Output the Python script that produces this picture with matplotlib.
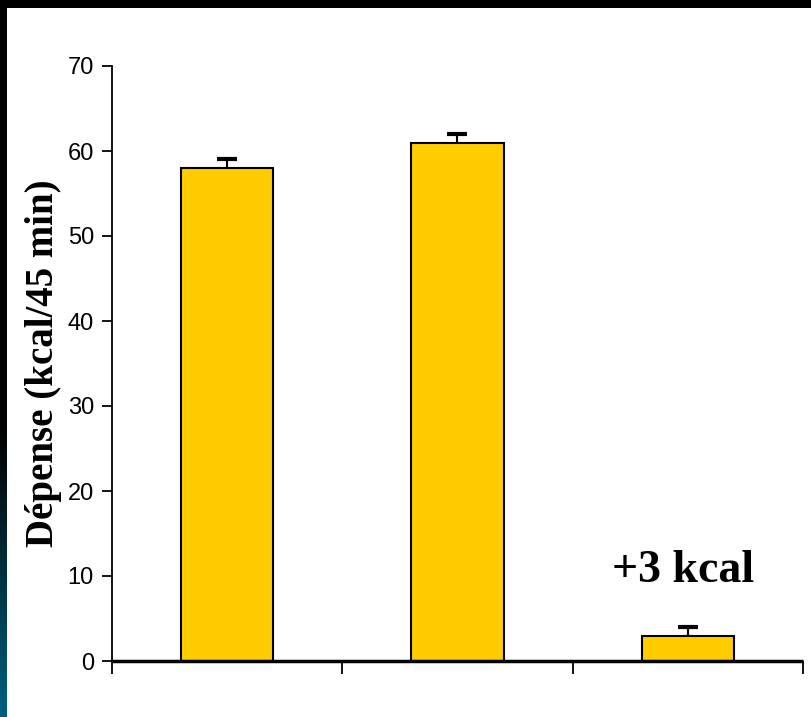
import numpy as np
import matplotlib
matplotlib.use("Agg")
import matplotlib.pyplot as plt
from matplotlib.colors import LinearSegmentedColormap

# data
groups = ["A", "B", "C"]
values = [58, 61, 3]
errors = [1.1, 1.0, 1.0]
yticks = [0, 10, 20, 30, 40, 50, 60, 70]

fig = plt.figure(figsize=(8.11, 7.17), dpi=100)
fig.patch.set_facecolor("white")

# dark frame: black strip at top, black->teal strip on the left
top = fig.add_axes([0, 1 - 8 / 717, 1, 8 / 717])
top.set_axis_off()
top.add_patch(plt.Rectangle((0, 0), 1, 1, color="black", transform=top.transAxes))

side = fig.add_axes([0, 0, 7 / 811, 1])
side.set_axis_off()
cmap = LinearSegmentedColormap.from_list("strip", [(0, "black"), (0.6, "black"), (1, "#00607f")])
side.imshow(np.linspace(0, 1, 256).reshape(-1, 1), aspect="auto", cmap=cmap,
            extent=[0, 1, 0, 1], origin="upper")

ax = fig.add_axes([112 / 811, 1 - 661 / 717, 691 / 811, 595 / 717])
x = np.arange(len(groups))
ax.bar(x, values, width=0.4, color="#FFCC00", edgecolor="black", linewidth=1.5, zorder=2)
eb = ax.errorbar(x, values, yerr=[np.zeros(len(errors)), errors], fmt="none",
                 ecolor="black", elinewidth=1.5, capsize=7, capthick=3, zorder=3)
# only the upper whisker is shown
eb[1][0].set_visible(False)

ax.set_xlim(-0.5, len(groups) - 0.5)
ax.set_ylim(0, 70)
ax.set_yticks(yticks)
ax.set_yticklabels([str(t) for t in yticks], family="Liberation Sans", fontsize=17)
ax.set_xticks(np.arange(len(groups) + 1) - 0.5)
ax.set_xticklabels([])
ax.tick_params(axis="y", direction="out", length=7, width=1.3, pad=6)
ax.tick_params(axis="x", direction="out", length=9, width=1.3)
for s in ["top", "right"]:
    ax.spines[s].set_visible(False)
ax.spines["left"].set_linewidth(1.3)
ax.spines["bottom"].set_linewidth(2.5)
ax.spines["bottom"].set_capstyle("butt")

ax.set_ylabel("Dépense (kcal/45 min)", family="Liberation Serif", fontweight="bold",
              fontsize=28)
ax.yaxis.set_label_coords(-0.072, 0.5)

ax.text(x[2] - 0.02, 9.3, "+3 kcal", family="Liberation Serif", fontweight="bold",
        fontsize=33, ha="center", va="baseline")

fig.savefig("out.png", dpi=100, facecolor=fig.get_facecolor())
